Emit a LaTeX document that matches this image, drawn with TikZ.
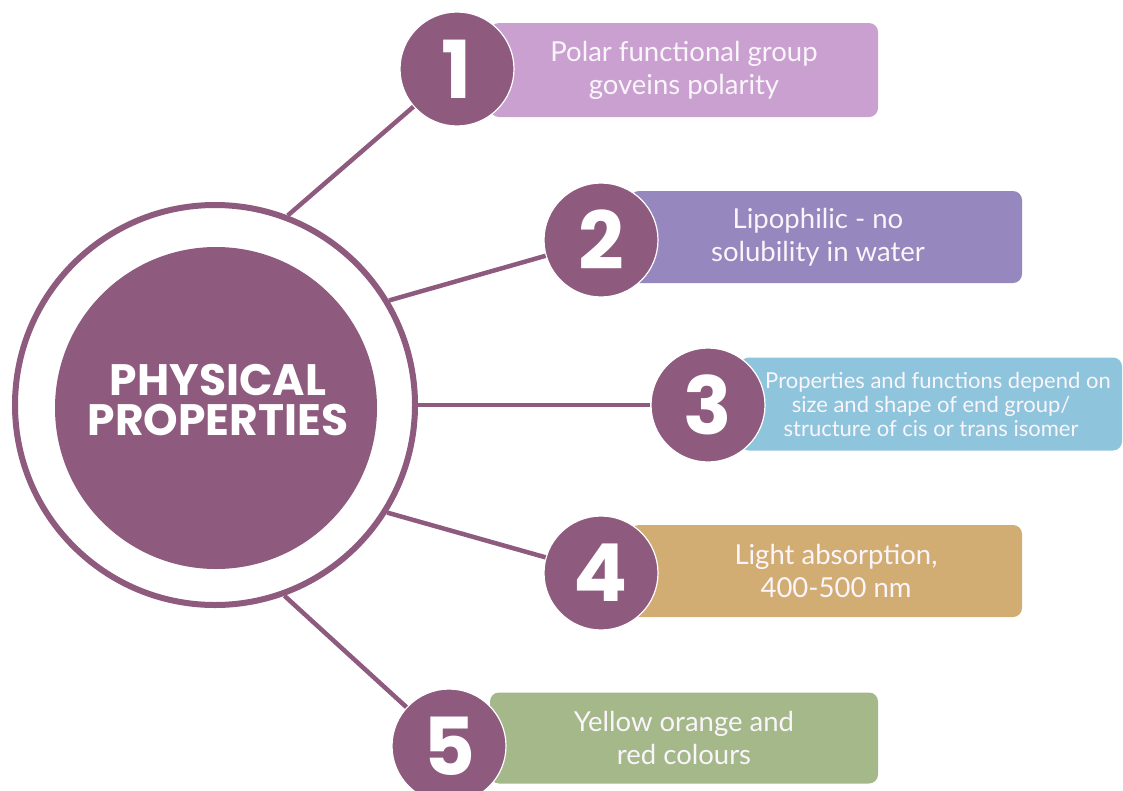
\documentclass[tikz,border=0pt]{standalone}
\usepackage{fontspec}
\setmainfont{Lato}
\newfontfamily\popfont{Poppins}
\definecolor{mauve}{HTML}{8E5A7E}
\definecolor{cA}{HTML}{C9A0CF}
\definecolor{cB}{HTML}{9687BE}
\definecolor{cC}{HTML}{8EC5DC}
\definecolor{cD}{HTML}{D2AD73}
\definecolor{cE}{HTML}{A4B88A}
\definecolor{boxtext}{HTML}{FAF5FA}
\tikzset{
  infobox/.style={rectangle, rounded corners=9pt, inner sep=0pt, text=boxtext, align=center,
    font=\fontsize{27.5}{33}\selectfont},
  numdisc/.style={circle, fill=mauve, draw=white, line width=1.2pt, minimum size=114pt, inner sep=0pt},
  digit/.style={inner sep=0pt, text=white, font=\popfont\bfseries\fontsize{80}{80}\selectfont},
  conn/.style={draw=mauve, line width=4.5pt},
}
\begin{document}
\begin{tikzpicture}[x=1pt,y=-1pt]
\useasboundingbox (0,0) rectangle (1123,790);
\fill[white] (0,0) rectangle (1123,790);
% outer ring and core
\node[circle, draw=mauve, line width=6pt, minimum size=400pt, inner sep=0pt] (ring) at (215,405) {};
\node[circle, fill=mauve, minimum size=322pt, inner sep=0pt] (core) at (216,408) {};
\node[text=white, align=center, inner sep=0pt,
  font=\popfont\bfseries\fontsize{44}{40}\selectfont] (title) at (218,400) {PHYSICAL\\PROPERTIES};
% boxes
\node[infobox, fill=cA, minimum width=388pt, minimum height=94pt] (b1) at (684,70) {Polar functional group\\goveins polarity};
\node[infobox, fill=cB, minimum width=392pt, minimum height=92pt] (b2) at (826,237) {\hspace*{-16pt}Lipophilic - no\\\hspace*{-16pt}solubility in water};
\node[infobox, fill=cC, minimum width=382pt, minimum height=93pt, font=\fontsize{22}{24}\selectfont] (b3) at (931,404) {\hspace*{14pt}Properties and functions depend on\\size and shape of end group/\\structure of cis or trans isomer};
\node[infobox, fill=cD, minimum width=392pt, minimum height=92pt] (b4) at (826,571) {\hspace*{20pt}Light absorption,\\\hspace*{20pt}400-500 nm};
\node[infobox, fill=cE, minimum width=388pt, minimum height=91pt] (b5) at (684,738) {Yellow orange and\\red colours};
% number discs
\node[numdisc] (n1) at (457,69) {};
\node[numdisc] (n2) at (601,240) {};
\node[numdisc] (n3) at (708,405) {};
\node[numdisc] (n4) at (601,573) {};
\node[numdisc] (n5) at (449,746) {};
\node[digit] (d1) at (n1) {1};
\node[digit] (d2) at (n2) {2};
\node[digit] (d3) at (n3) {3};
\node[digit] (d4) at (n4) {4};
\node[digit] (d5) at (n5) {5};
% connectors
\draw[conn] (ring.69) -- (n1);
\draw[conn] (ring.31) -- (n2);
\draw[conn] (ring.0) -- (n3);
\draw[conn] (ring.-32) -- (n4);
\draw[conn] (ring.-70) -- (n5);
\end{tikzpicture}
\end{document}
